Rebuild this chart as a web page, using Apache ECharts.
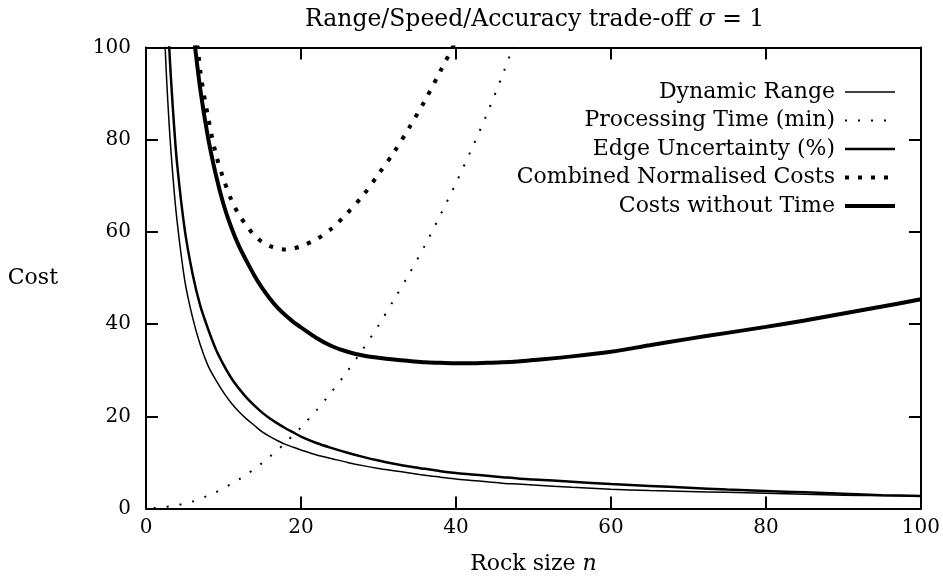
<!DOCTYPE html>
<html>
<head>
<meta charset="utf-8">
<title>Range/Speed/Accuracy trade-off</title>
<script src="https://cdn.jsdelivr.net/npm/echarts@6/dist/echarts.min.js"></script>
<style>
  html, body { margin: 0; padding: 0; background: #fff; }
  #chart { width: 943px; height: 584px; }
</style>
</head>
<body>
<div id="chart"></div>
<script>
// Rock size n (x values shared by every curve)
const rockSize = [1, 2, 2.5, 3, 3.5, 4, 5, 6, 7, 8, 9, 10, 11, 12, 13, 14, 15, 16, 17, 18, 19, 20,
  22, 24, 26, 28, 30, 32, 34, 36, 38, 40, 42, 44, 46, 48, 50, 55, 60, 65, 70, 75, 80, 85, 90, 95, 100];

// Cost values per curve; null where the curve is not drawn
const dynamicRange = [null, 124, 99, 83, 71.5, 62.5, 49.5, 41.5, 35.5, 31, 27.9, 25.2, 22.9, 21.0, 19.4, 18.0, 16.6, 15.6, 14.7, 13.9, 13.3, 12.7,
  11.6, 10.8, 10.0, 9.3, 8.7, 8.2, 7.7, 7.2, 6.8, 6.4, 6.1, 5.8, 5.5, 5.3, 5.1, 4.6, 4.2, 3.9, 3.7, 3.5, 3.3, 3.1, 2.9, 2.8, 2.7];

const processingTime = [0.1, 0.25, 0.35, 0.45, 0.55, 0.7, 1.1, 1.5, 2.1, 2.8, 3.5, 4.4, 5.3, 6.3, 7.4, 8.6, 9.9, 11.3, 12.7, 14.3, 15.9, 17.6,
  21.3, 25.4, 29.8, 34.6, 39.7, 45.3, 51.0, 57.1, 63.7, 70.6, 77.9, 85.6, 94.0, 103, 112, null, null, null, null, null, null, null, null, null, null];

const edgeUncertainty = [null, 150, 120, 100, 86, 75, 60.5, 51, 44, 39, 34.6, 31.2, 28.3, 26.0, 24.0, 22.3, 20.8, 19.5, 18.4, 17.4, 16.5, 15.6,
  14.2, 13.1, 12.1, 11.2, 10.4, 9.7, 9.1, 8.6, 8.1, 7.7, 7.4, 7.1, 6.8, 6.5, 6.3, 5.8, 5.3, 4.9, 4.5, 4.1, 3.8, 3.5, 3.2, 2.9, 2.7];

const combinedCosts = [null, null, null, null, null, null, null, 112, 95, 85, 77, 71.5, 67, 63.7, 61.3, 59.2, 57.8, 56.9, 56.4, 56.2, 56.4, 56.9,
  58.4, 60.8, 64.1, 67.9, 72.5, 77.3, 82.7, 88.5, 94.9, 101.5, 109, null, null, null, null, null, null, null, null, null, null, null, null, null, null];

const costsWithoutTime = [null, null, null, null, null, null, null, 105, 91, 80.5, 72.5, 66, 61, 56.9, 53.6, 50.5, 47.8, 45.5, 43.5, 41.9, 40.5, 39.3,
  37.0, 35.2, 34.0, 33.2, 32.7, 32.3, 32.0, 31.7, 31.6, 31.5, 31.5, 31.6, 31.7, 31.9, 32.2, 33.0, 34.0, 35.4, 36.8, 38.1, 39.4, 40.8, 42.3, 43.8, 45.4];

const xTicks = { min: 0, max: 100, interval: 20 };
const yTicks = { min: 0, max: 100, interval: 20 };

const seriesNames = [
  'Dynamic Range',
  'Processing Time (min)',
  'Edge Uncertainty (%)',
  'Combined Normalised Costs',
  'Costs without Time'
];

const FONT = 'DejaVu Serif';
const INK = '#000';
const TITLE_SIZE = 23.5;
const TEXT_SIZE = 22;
const NUM_SIZE = 20;

function pairs(values) {
  const out = [];
  for (let i = 0; i < rockSize.length; i++) {
    if (values[i] !== null) out.push([rockSize[i], values[i]]);
  }
  return out;
}

function curve(name, values, width, dash) {
  return {
    name: name,
    type: 'line',
    data: pairs(values),
    xAxisIndex: 0,
    yAxisIndex: 0,
    showSymbol: false,
    symbol: 'none',
    smooth: 0.3,
    clip: true,
    lineStyle: { color: INK, width: width, type: dash, cap: 'butt' },
    itemStyle: { color: INK },
    emphasis: { disabled: true }
  };
}

const axisCommon = {
  type: 'value',
  splitLine: { show: false },
  axisLine: { show: true, onZero: false, lineStyle: { color: INK, width: 2 } },
  axisTick: { show: true, inside: true, length: 12, lineStyle: { color: INK, width: 2 } },
  minorTick: { show: false }
};

function italicRich(size) {
  return {
    a: { fontFamily: FONT, fontSize: size, color: INK, fontWeight: 'normal' },
    i: { fontFamily: FONT, fontSize: size, fontStyle: 'italic', color: INK, fontWeight: 'normal' }
  };
}

const chart = echarts.init(document.getElementById('chart'), null, { renderer: 'canvas' });

chart.setOption({
  animation: false,
  backgroundColor: '#fff',
  // title centred over the plotting area rather than the whole canvas
  title: {
    text: '{a|Range/Speed/Accuracy trade-off }{i|σ}{a| = 1}',
    left: 300,
    top: 3,
    textStyle: { fontWeight: 'normal', rich: italicRich(TITLE_SIZE) }
  },
  legend: {
    data: seriesNames,
    orient: 'vertical',
    align: 'right',
    right: 41,
    top: 75,
    itemWidth: 50,
    itemHeight: 14,
    itemGap: 4.5,
    selectedMode: false,
    itemStyle: { color: 'rgba(0,0,0,0)', borderColor: 'rgba(0,0,0,0)', borderWidth: 0 },
    lineStyle: { width: 'inherit', type: 'inherit', color: 'inherit' },
    textStyle: { fontFamily: FONT, fontSize: TEXT_SIZE, color: INK, lineHeight: 24, padding: [0, 5, 0, 0] }
  },
  grid: { left: 146, right: 20, top: 47.5, bottom: 75.5, containLabel: false },
  xAxis: [
    Object.assign({}, axisCommon, {
      position: 'bottom',
      min: xTicks.min, max: xTicks.max, interval: xTicks.interval,
      name: '{a|Rock size }{i|n}',
      nameLocation: 'middle',
      nameGap: 45,
      nameTextStyle: { rich: italicRich(TEXT_SIZE) },
      axisLabel: { fontFamily: FONT, fontSize: NUM_SIZE, color: INK, margin: 9 }
    }),
    Object.assign({}, axisCommon, {
      position: 'top',
      min: xTicks.min, max: xTicks.max, interval: xTicks.interval,
      axisLabel: { show: false }
    })
  ],
  yAxis: [
    Object.assign({}, axisCommon, {
      position: 'left',
      min: yTicks.min, max: yTicks.max, interval: yTicks.interval,
      name: 'Cost',
      nameLocation: 'middle',
      nameRotate: 0,
      nameGap: 88,
      nameTextStyle: { fontFamily: FONT, fontSize: TEXT_SIZE, color: INK },
      axisLabel: { fontFamily: FONT, fontSize: NUM_SIZE, color: INK, margin: 15 }
    }),
    Object.assign({}, axisCommon, {
      position: 'right',
      min: yTicks.min, max: yTicks.max, interval: yTicks.interval,
      axisLabel: { show: false }
    })
  ],
  series: [
    curve(seriesNames[0], dynamicRange, 1.5, 'solid'),
    curve(seriesNames[1], processingTime, 2, [2, 11]),
    curve(seriesNames[2], edgeUncertainty, 2.5, 'solid'),
    curve(seriesNames[3], combinedCosts, 4, [4, 9]),
    curve(seriesNames[4], costsWithoutTime, 4, 'solid')
  ]
});
</script>
</body>
</html>
